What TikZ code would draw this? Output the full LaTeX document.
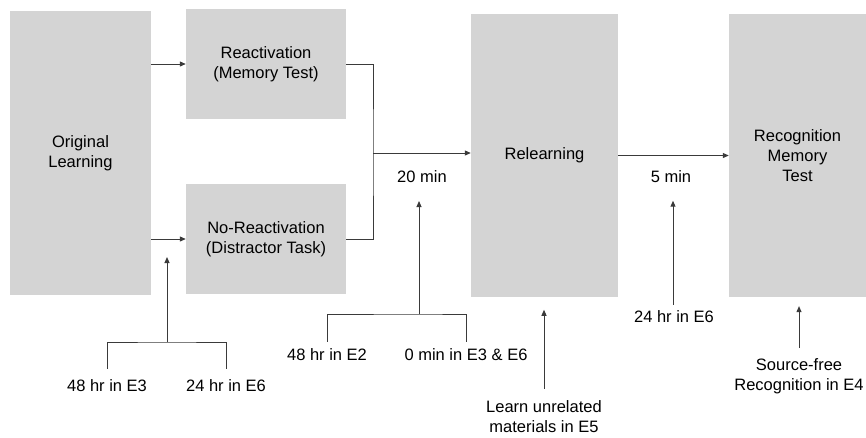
\documentclass[tikz,border=0pt]{standalone}
\usepackage{fontspec}
\setmainfont{Liberation Sans}
\usepackage{xcolor}
\usetikzlibrary{arrows.meta}
\definecolor{boxgray}{HTML}{D4D4D4}
\definecolor{linegray}{HTML}{3A3A3A}

\begin{document}
\begin{tikzpicture}[x=1pt,y=-1pt,
  stage/.style={rectangle,fill=boxgray,inner sep=0pt,align=center,font=\fontsize{16.5}{20}\selectfont},
  lbl/.style={inner sep=0pt,align=center,font=\fontsize{16.5}{20}\selectfont},
  tie/.style={draw=linegray,line width=1pt},
  link/.style={tie,-{Triangle[length=6pt,width=5pt]}}]
  \useasboundingbox (0,0) rectangle (866,437);
  % stages
  \node[stage,minimum width=141,minimum height=284] (orig) at (80.5,153) {Original\\Learning};
  \node[stage,minimum width=160,minimum height=110] (react) at (266,64) {Reactivation\\(Memory Test)};
  \node[stage,minimum width=160,minimum height=110] (noreact) at (266,239) {No-Reactivation\\(Distractor Task)};
  \node[stage,minimum width=147,minimum height=283] (relearn) at (544.5,155.5) {Relearning};
  \node[stage,minimum width=137,minimum height=283] (recog) at (797.5,155.5) {Recognition\\Memory\\Test};
  % main flow
  \draw[link] (orig.east |- react.west) -- (react.west);
  \draw[link] (orig.east |- noreact.west) -- (noreact.west);
  \coordinate (merge) at (373,153);
  \draw[tie] (react.east) -| (merge) |- (noreact.east);
  \draw[link] (merge) -- (merge -| relearn.west);
  \draw[link] (relearn.east) -- (recog.west);
  \node[lbl] (gap1) at (422,177) {20 min};
  \node[lbl] (gap2) at (671,177) {5 min};
  % delays before the test phases
  \node[lbl] (d3) at (107,386) {48 hr in E3};
  \node[lbl] (d6) at (226,386) {24 hr in E6};
  \coordinate (fork1) at (167,342);
  \draw[tie] ([yshift=11pt]d3.north) |- (fork1) -| ([yshift=11pt]d6.north);
  \draw[link] (fork1) -- ++(0,-85);
  \node[lbl] (d2) at (327,355) {48 hr in E2};
  \node[lbl] (d0) at (466,355) {0 min in E3 \& E6};
  \coordinate (fork2) at (419,314);
  \draw[tie] ([yshift=7pt]d2.north) |- (fork2) -| ([yshift=7pt]d0.north);
  \draw[link] (fork2) -- ++(0,-113);
  \node[lbl] (d6b) at (674,317) {24 hr in E6};
  \draw[link] ([yshift=6pt,xshift=-1pt]d6b.north) -- ++(0,-104);
  \node[lbl] (e5) at (544,417) {Learn unrelated\\materials in E5};
  \draw[link] ([yshift=12pt]e5.north) -- ++(0,-79);
  \node[lbl] (e4) at (799,376) {Source-free\\Recognition in E4};
  \draw[link] ([yshift=10pt]e4.north) -- ++(0,-42);
\end{tikzpicture}
\end{document}
